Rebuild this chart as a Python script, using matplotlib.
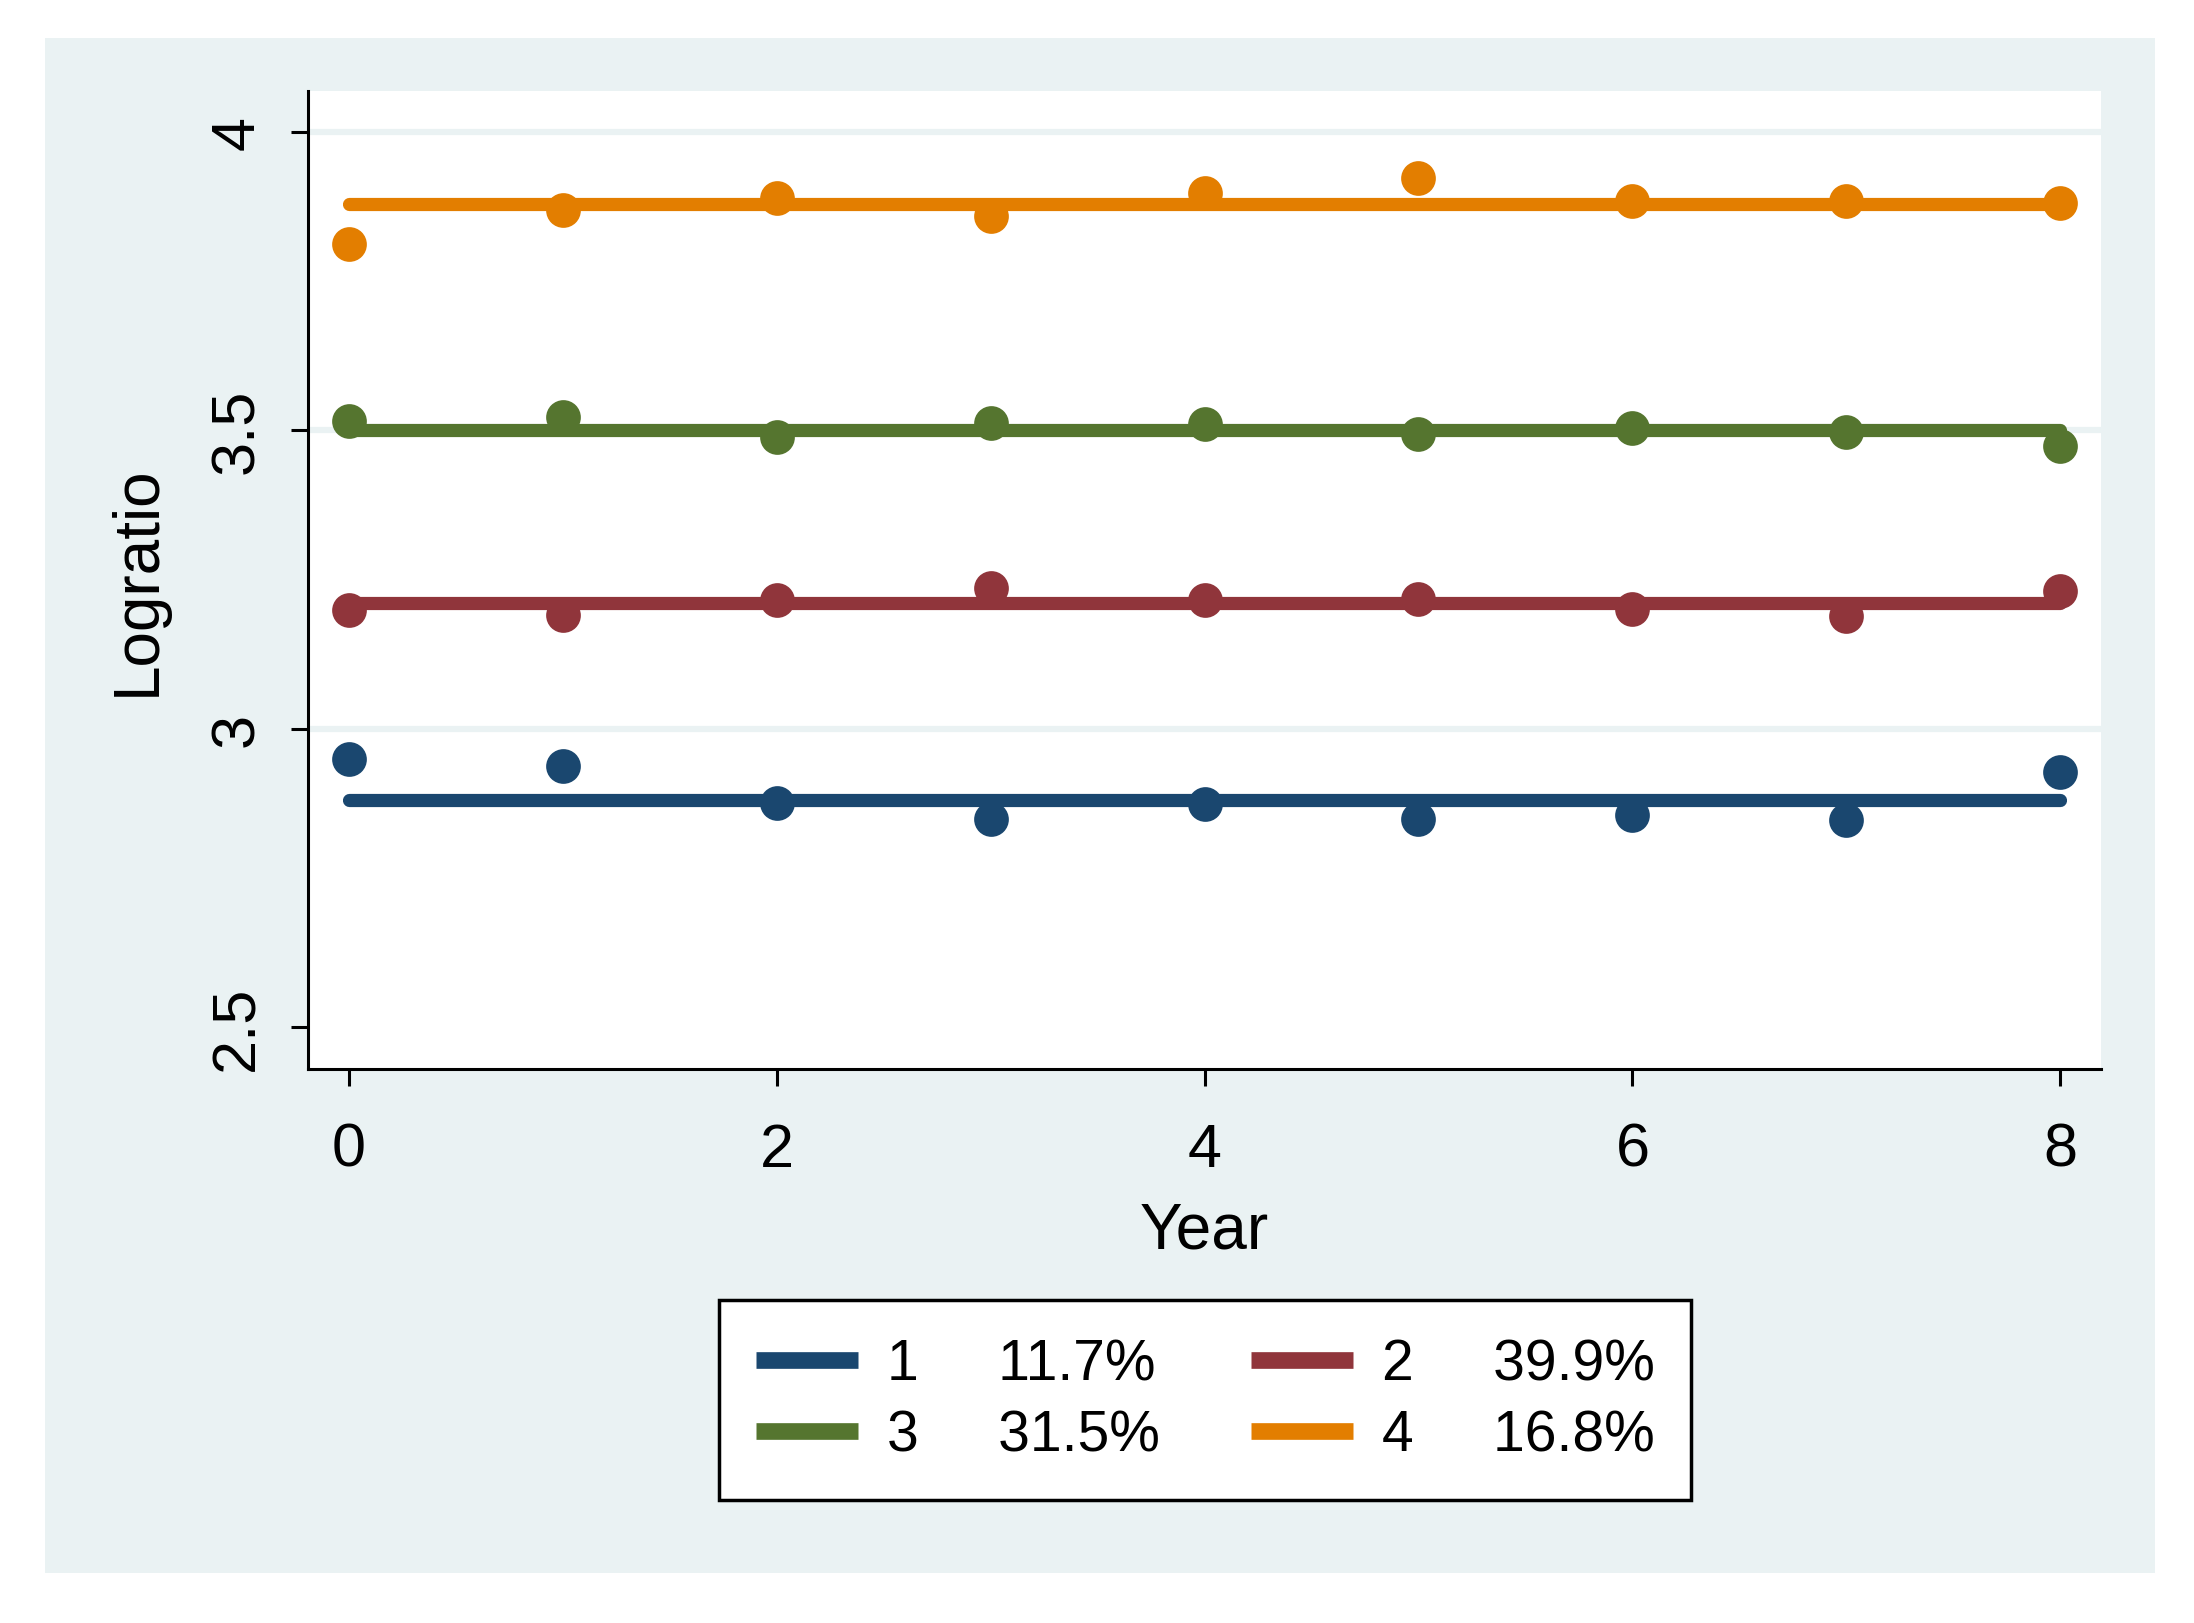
import matplotlib.pyplot as plt
from matplotlib.patches import Rectangle
from matplotlib.lines import Line2D

years = [0, 1, 2, 3, 4, 5, 6, 7, 8]
groups = ["1", "2", "3", "4"]
shares = ["11.7%", "39.9%", "31.5%", "16.8%"]
colors = ["#1a476f", "#90353b", "#55752f", "#e37e00"]

# observed mean logratio per group
obs1 = [2.950, 2.938, 2.875, 2.849, 2.873, 2.849, 2.856, 2.847, 2.927]
obs2 = [3.198, 3.191, 3.215, 3.236, 3.215, 3.217, 3.201, 3.189, 3.231]
obs3 = [3.515, 3.522, 3.489, 3.512, 3.510, 3.494, 3.504, 3.497, 3.473]
obs4 = [3.812, 3.869, 3.888, 3.859, 3.897, 3.923, 3.883, 3.883, 3.880]
# fitted (flat) trajectories
fit = [2.880, 3.210, 3.500, 3.878]
observed = [obs1, obs2, obs3, obs4]

plt.rcParams['font.family'] = ['Liberation Sans Narrow', 'Liberation Sans', 'DejaVu Sans']
bg = "#eaf2f3"

fig = plt.figure(figsize=(21.94, 16.24), dpi=100)
fig.patch.set_facecolor("white")
fig.patches.append(Rectangle((45/2194, 1 - 1574/1624), (2155-45)/2194, (1574-39)/1624,
                             transform=fig.transFigure, facecolor=bg, edgecolor="none", zorder=-10))

ax = fig.add_axes([308/2194, 1 - 1070/1624, (2101-308)/2194, (1070-92)/1624])
ax.set_facecolor("white")

for y in [3, 3.5, 4]:
    ax.axhline(y, color=bg, lw=4.5, zorder=1)

for i in range(4):
    ax.plot([years[0], years[-1]], [fit[i], fit[i]], color=colors[i], lw=9.5,
            solid_capstyle="round", zorder=3)
    ax.plot(years, observed[i], "o", color=colors[i], ms=25, mew=0, zorder=4)

ax.set_xlim(-0.19, 8.19)
ax.set_ylim(2.43, 4.068)
ax.set_xticks([0, 2, 4, 6, 8])
ax.set_yticks([2.5, 3, 3.5, 4])
ax.set_yticklabels(["2.5", "3", "3.5", "4"], rotation=90, va="center")
ax.tick_params(axis="both", labelsize=44, length=12, width=2.2, direction="out", pad=18)
ax.tick_params(axis="x", pad=26)
for s in ["top", "right"]:
    ax.spines[s].set_visible(False)
for s in ["left", "bottom"]:
    ax.spines[s].set_linewidth(2.2)
ax.set_xlabel("Year", fontsize=46, labelpad=16)
ax.set_ylabel("Logratio", fontsize=46, labelpad=30)

handles = [Line2D([], [], color=c, lw=12, solid_capstyle="butt") for c in colors]
labels = [g + "     " + s for g, s in zip(groups, shares)]
order = [0, 2, 1, 3]
leg = fig.legend([handles[k] for k in order], [labels[k] for k in order], ncol=2,
                 loc="center", bbox_to_anchor=(1205/2194, 1 - 1401/1624), bbox_transform=fig.transFigure,
                 fontsize=41, frameon=True, fancybox=False, edgecolor="black",
                 facecolor="white", framealpha=1,
                 handlelength=1.8, columnspacing=1.6, borderpad=0.65, labelspacing=0.3,
                 handletextpad=0.5)
leg.get_frame().set_linewidth(2.5)

fig.savefig("out.png", dpi=100, facecolor="white")
